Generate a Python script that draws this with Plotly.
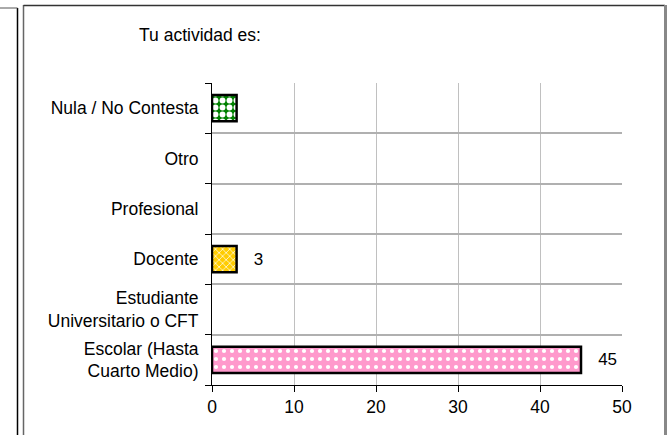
import plotly.graph_objects as go

categories = ["Escolar (Hasta<br>Cuarto Medio)", "Estudiante<br>Universitario o CFT",
              "Docente", "Profesional", "Otro", "Nula / No Contesta"]
values = [45, 0, 3, 0, 0, 3]
labels = ["45", "", "3", "", "", ""]
bg_colors = ["#FF99CC", "#FFFFFF", "#FFCC00", "#FFFFFF", "#FFFFFF", "#008000"]
pattern_shapes = ["square", "", "diamond", "", "", "checker"]
x_ticks = [0, 10, 20, 30, 40, 50]
title_text = "Tu actividad es:"

W, H = 669, 435
L, R, T, B = 212, 669 - 622, 83, 435 - 385
pw, ph = W - L - R, H - T - B

def px(x):
    return (x - L) / pw

def py(y):
    return (H - B - y) / ph

pshape = {"square": ".", "diamond": "x", "checker": ".", "": ""}
psize = {"square": 8, "diamond": 5, "checker": 7, "": 8}
psol = {"square": 0.22, "diamond": 0.25, "checker": 0.55, "": 0.3}

fig = go.Figure()
fig.add_trace(go.Bar(
    y=categories, x=values, orientation="h",
    width=0.52,
    text=[("   " + t) if t else "" for t in labels], textposition="outside",
    textfont=dict(family="Liberation Sans, Arial", size=17, color="black"),
    cliponaxis=False,
    marker=dict(
        color="#FFFFFF",
        line=dict(color="black", width=[2.5 if v else 0 for v in values]),
        pattern=dict(shape=[pshape[s] for s in pattern_shapes], fgcolor="#FFFFFF",
                     fgopacity=1, bgcolor=bg_colors, size=[psize[s] for s in pattern_shapes],
                     solidity=[psol[s] for s in pattern_shapes], fillmode="replace"),
    ),
    showlegend=False,
))

shapes = [
    dict(type="line", xref="paper", yref="paper", x0=px(23.5), x1=px(23.5), y0=py(440), y1=py(5),
         line=dict(color="#666666", width=1.5)),
    dict(type="line", xref="paper", yref="paper", x0=px(23.5), x1=px(665), y0=py(5.5), y1=py(5.5),
         line=dict(color="#333333", width=1.5)),
    dict(type="line", xref="paper", yref="paper", x0=px(665.5), x1=px(665.5), y0=py(440), y1=py(5),
         line=dict(color="#888888", width=3)),
    dict(type="line", xref="paper", yref="paper", x0=px(17.5), x1=px(17.5), y0=py(440), y1=py(8),
         line=dict(color="black", width=1.5)),
    dict(type="line", xref="paper", yref="paper", x0=px(0), x1=px(17.5), y0=py(8), y1=py(8),
         line=dict(color="#555555", width=1)),
]

fig.update_layout(
    width=W, height=H,
    margin=dict(l=L, r=R, t=T, b=B),
    paper_bgcolor="white", plot_bgcolor="white",
    font=dict(family="Liberation Sans, Arial", size=17.5, color="black"),
    title=dict(text=title_text, xref="container", x=200 / W, xanchor="center",
               yref="container", y=1 - 35 / H, yanchor="middle", font=dict(size=17.5)),
    xaxis=dict(range=[0, 50], tickvals=x_ticks, showgrid=True, gridcolor="#C0C0C0",
               gridwidth=1, zeroline=False, showline=True, linecolor="black", linewidth=1,
               ticks="outside", ticklen=6, tickcolor="black", mirror=False),
    yaxis=dict(categoryorder="array", categoryarray=categories, tickson="boundaries",
               showgrid=True, gridcolor="#B0B0B0", gridwidth=2, showline=True,
               linecolor="black", linewidth=1, ticks="outside", ticklen=6, tickcolor="black",
               zeroline=False, ticklabelstandoff=9),
    bargap=0.48,
    shapes=shapes,
)
fig.write_html("out.html", config={"displayModeBar": False},
               post_script="document.body.style.margin='0';document.body.style.overflow='hidden';")
